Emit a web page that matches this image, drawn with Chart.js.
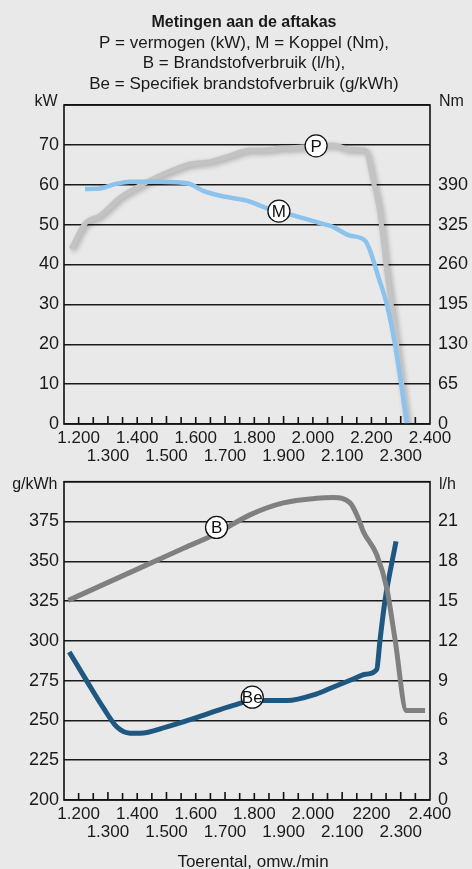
<!DOCTYPE html>
<html>
<head>
<meta charset="utf-8">
<script src="https://cdn.jsdelivr.net/npm/chart.js"></script>
<style>
  body { margin: 0; background: #e9e9e9; }
  .box { position: absolute; left: 0; width: 472px; }
</style>
</head>
<body>
<div class="box" style="top:0;height:470px"><canvas id="chart-1"></canvas></div>
<div class="box" style="top:460px;height:409px"><canvas id="chart-2"></canvas></div>
<script>
// x axis (toerental)
var rpmTicks = [1200, 1300, 1400, 1500, 1600, 1700, 1800, 1900, 2000, 2100, 2200, 2300, 2400];
var topRpmLabels = ['1.200', '1.300', '1.400', '1.500', '1.600', '1.700', '1.800', '1.900', '2.000', '2.100', '2.200', '2.300', '2.400'];
var bottomRpmLabels = ['1.200', '1.300', '1.400', '1.500', '1.600', '1.700', '1.800', '1.900', '2.000', '2.100', '2200', '2.300', '2.400'];

// y tick labels
var kwTicks = [0, 10, 20, 30, 40, 50, 60, 70];
var nmTicks = [0, 65, 130, 195, 260, 325, 390];
var gkwhTicks = [200, 225, 250, 275, 300, 325, 350, 375];
var lhTicks = [0, 3, 6, 9, 12, 15, 18, 21];

// P = vermogen (kW)
var powerRpm = [1174, 1222, 1273, 1341, 1410, 1478, 1580, 1649, 1717, 1785, 1819, 1898, 1979, 2069, 2127, 2178, 2206, 2229, 2252, 2286, 2321];
var powerKw = [43.9, 50.3, 52.3, 56.8, 59.8, 62.3, 65.2, 65.8, 67.3, 68.7, 68.7, 69.2, 69.5, 70.0, 68.9, 68.7, 61, 52.7, 38.5, 20, 0];

// M = koppel (Nm)
var torqueRpm = [1222, 1273, 1324, 1375, 1478, 1575, 1626, 1683, 1774, 1854, 1933, 2013, 2070, 2127, 2178, 2229, 2252, 2280, 2322];
var torqueNm = [383, 384, 391, 395, 395, 392, 380, 372, 364, 350, 340, 329, 321, 307, 299, 232, 196, 131, 0];

// B = brandstofverbruik (l/h)
var fuelRpm = [1165, 1444, 1560, 1671, 1785, 1899, 2013, 2070, 2127, 2155, 2172, 2218, 2252, 2280, 2320, 2383];
var fuelLh = [15.05, 17.84, 19.0, 20.1, 21.5, 22.4, 22.75, 22.8, 22.4, 21.25, 20.25, 18.5, 16, 12.2, 6.75, 6.75];

// Be = specifiek brandstofverbruik (g/kWh)
var specRpm = [1168, 1227, 1284, 1330, 1375, 1410, 1501, 1614, 1728, 1797, 1911, 2013, 2060, 2138, 2180, 2218, 2229, 2246, 2284];
var specG = [293, 275, 258, 246, 242, 242, 246, 252.5, 259.5, 262.5, 262.5, 266.7, 270.2, 276, 279, 282, 300, 325, 362.5];

var FONT = "'Liberation Sans', Arial, sans-serif";
Chart.defaults.font.family = FONT;
Chart.defaults.color = '#1a1a1a';

function pts(xs, ys) {
    return xs.map(function (x, i) { return { x: x, y: ys[i] }; });
}

// frame, inside tick marks, shadow, labels and free text
var decor = {
    id: 'decor',
    beforeDatasetDraw: function (chart, args) {
        if (chart.data.datasets[args.index].shadow) {
            var c = chart.ctx;
            c.save();
            c.shadowColor = 'rgba(0,0,0,0.28)';
            c.shadowBlur = 5;
            c.shadowOffsetX = 2;
            c.shadowOffsetY = 2;
        }
    },
    afterDatasetDraw: function (chart, args) {
        if (chart.data.datasets[args.index].shadow) chart.ctx.restore();
    },
    afterDraw: function (chart, args, opts) {
        var c = chart.ctx, a = chart.chartArea, x = chart.scales.x;
        c.save();
        c.strokeStyle = '#111';
        c.lineWidth = 1.6;
        c.strokeRect(a.left, a.top, a.right - a.left, a.bottom - a.top);
        c.beginPath();
        for (var v = 1200; v < 2400; v += 50) {
            var px = x.getPixelForValue(v);
            c.moveTo(px, a.bottom);
            c.lineTo(px, a.bottom - (v % 200 === 100 ? 8 : 7));
        }
        c.stroke();

        // circled curve names
        (opts.markers || []).forEach(function (m) {
            var px = x.getPixelForValue(m.x), py = chart.scales[m.axis].getPixelForValue(m.y);
            c.beginPath();
            c.arc(px, py, 11, 0, Math.PI * 2);
            c.fillStyle = '#fff';
            c.fill();
            c.lineWidth = 1.3;
            c.strokeStyle = '#111';
            c.stroke();
            c.fillStyle = '#111';
            c.font = '17px ' + FONT;
            c.textAlign = 'center';
            c.textBaseline = 'middle';
            c.fillText(m.text, px, py + 1);
        });

        (opts.texts || []).forEach(function (t) {
            c.fillStyle = '#1a1a1a';
            c.font = t.font + ' ' + FONT;
            c.textAlign = t.align;
            c.textBaseline = 'alphabetic';
            c.fillText(t.text, t.x, t.y);
        });
        c.restore();
    }
};

function xScale(labels) {
    return {
        type: 'linear',
        min: 1150,
        max: 2400,
        afterBuildTicks: function (s) {
            s.ticks = rpmTicks.map(function (v) { return { value: v }; });
        },
        afterFit: function (s) { s.height = 40; },
        grid: { display: false, drawTicks: false },
        border: { display: false },
        ticks: {
            autoSkip: false,
            maxRotation: 0,
            padding: 5,
            font: { size: 17, lineHeight: 1.08 },
            callback: function (value, index) {
                var lab = labels[rpmTicks.indexOf(value)];
                return (value % 200 === 100) ? ['', lab] : lab;
            }
        }
    };
}

function yScale(pos, min, max, step, shown, width, grid) {
    return {
        position: pos,
        min: min,
        max: max,
        afterFit: function (s) { s.width = width; },
        grid: grid ? { color: '#1a1a1a', lineWidth: 1.5, drawTicks: false } : { display: false, drawTicks: false },
        border: { display: false },
        ticks: {
            stepSize: step,
            padding: pos === 'left' ? 5 : 8,
            font: { size: 18 },
            callback: function (value) {
                return shown.indexOf(value) >= 0 ? String(value) : '';
            }
        }
    };
}

new Chart(document.getElementById('chart-1'), {
    type: 'line',
    data: {
        datasets: [{
            label: 'M',
            data: pts(torqueRpm, torqueNm),
            yAxisID: 'y1',
            borderColor: '#8cc3ec',
            borderWidth: 4.5,
            pointRadius: 0,
            cubicInterpolationMode: 'monotone'
        }, {
            label: 'P',
            data: pts(powerRpm, powerKw),
            yAxisID: 'y',
            borderColor: '#c3c3c3',
            borderWidth: 5,
            pointRadius: 0,
            shadow: true,
            cubicInterpolationMode: 'monotone'
        }]
    },
    options: {
        responsive: true,
        maintainAspectRatio: false,
        animation: false,
        layout: { padding: { top: 105, bottom: 6, left: 0, right: 0 } },
        scales: {
            x: xScale(topRpmLabels),
            y: yScale('left', 0, 80, 10, kwTicks, 64, true),
            y1: yScale('right', 0, 520, 65, nmTicks, 42, false)
        },
        plugins: {
            legend: { display: false },
            tooltip: { enabled: false },
            decor: {
                markers: [
                    { text: 'P', x: 2011, y: 69.75, axis: 'y' },
                    { text: 'M', x: 1884, y: 347, axis: 'y1' }
                ],
                texts: [
                    { text: 'Metingen aan de aftakas', x: 244, y: 27.3, align: 'center', font: 'bold 16px' },
                    { text: 'P = vermogen (kW), M = Koppel (Nm),', x: 244, y: 47.7, align: 'center', font: '17px' },
                    { text: 'B = Brandstofverbruik (l/h),', x: 244, y: 68.3, align: 'center', font: '17px' },
                    { text: 'Be = Specifiek brandstofverbruik (g/kWh)', x: 244, y: 89.3, align: 'center', font: '17px' },
                    { text: 'kW', x: 57.5, y: 106, align: 'right', font: '16px' },
                    { text: 'Nm', x: 439, y: 106, align: 'left', font: '16px' }
                ]
            }
        }
    },
    plugins: [decor]
});

new Chart(document.getElementById('chart-2'), {
    type: 'line',
    data: {
        datasets: [{
            label: 'B',
            data: pts(fuelRpm, fuelLh),
            yAxisID: 'y1',
            borderColor: '#808080',
            borderWidth: 5,
            pointRadius: 0,
            cubicInterpolationMode: 'monotone'
        }, {
            label: 'Be',
            data: pts(specRpm, specG),
            yAxisID: 'y',
            borderColor: '#1e5780',
            borderWidth: 5,
            pointRadius: 0,
            cubicInterpolationMode: 'monotone'
        }]
    },
    options: {
        responsive: true,
        maintainAspectRatio: false,
        animation: false,
        layout: { padding: { top: 21.7, bottom: 29, left: 0, right: 0 } },
        scales: {
            x: xScale(bottomRpmLabels),
            y: yScale('left', 200, 400, 25, gkwhTicks, 64, true),
            y1: yScale('right', 0, 24, 3, lhTicks, 42, false)
        },
        plugins: {
            legend: { display: false },
            tooltip: { enabled: false },
            decor: {
                markers: [
                    { text: 'B', x: 1671, y: 20.55, axis: 'y1' },
                    { text: 'Be', x: 1793, y: 264.6, axis: 'y' }
                ],
                texts: [
                    { text: 'g/kWh', x: 57.5, y: 29.3, align: 'right', font: '16px' },
                    { text: 'l/h', x: 439, y: 29.3, align: 'left', font: '16px' },
                    { text: 'Toerental, omw./min', x: 253, y: 406.5, align: 'center', font: '17px' }
                ]
            }
        }
    },
    plugins: [decor]
});
</script>
</body>
</html>
